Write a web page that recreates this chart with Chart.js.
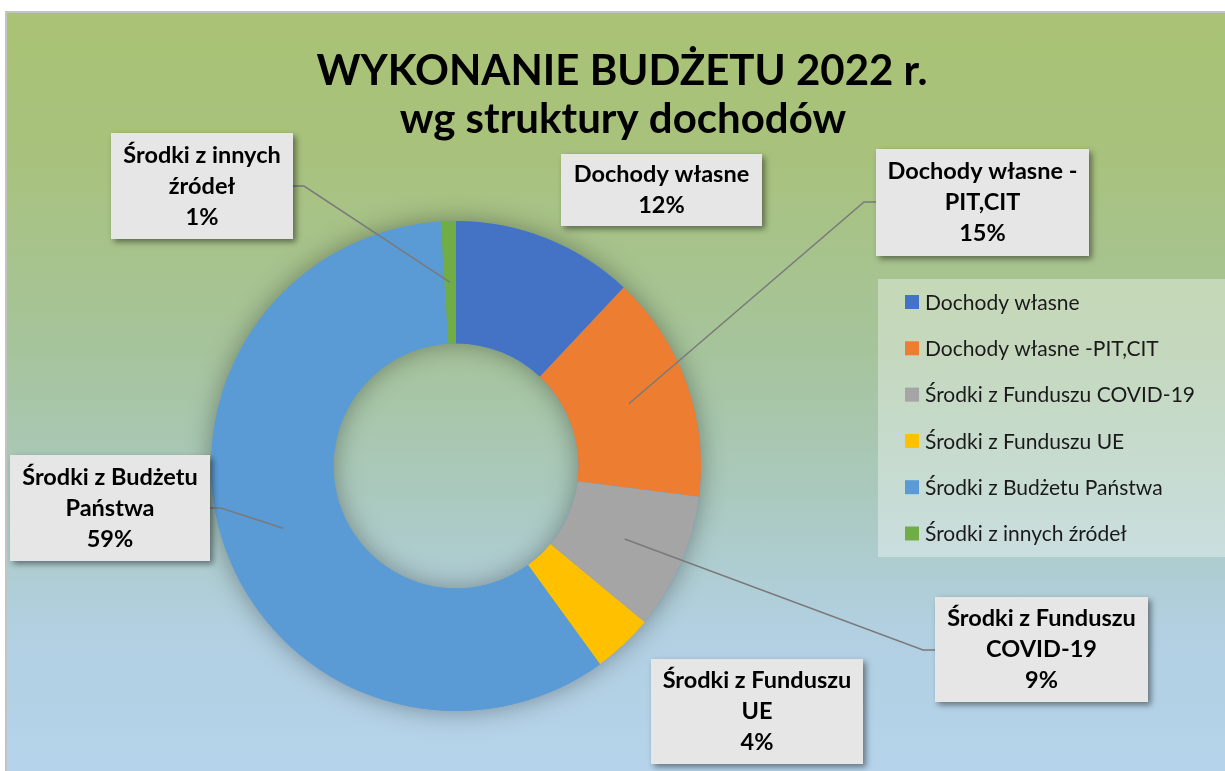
<!DOCTYPE html>
<html>
<head>
<meta charset="utf-8">
<script src="https://cdn.jsdelivr.net/npm/chart.js@4.4.0/dist/chart.umd.min.js"></script>
<style>
    body { margin: 0; background: #fff; width: 1225px; height: 771px; overflow: hidden; }
    #bg {
        position: absolute; left: 5px; top: 11px; right: 0; bottom: 0;
        border-top: 2px solid #c3c3c3; border-left: 2px solid #c3c3c3;
        background: linear-gradient(to bottom, #a9c274 0%, #a8c27e 20%, #a6c49c 45%, #aac9bd 63%, #b2d0e2 82%, #b5d3ea 100%);
    }
    #wrap { position: absolute; left: 0; top: 0; width: 1225px; height: 771px; }
</style>
</head>
<body>
<div id="bg"></div>
<div id="wrap"><canvas id="budgetChart"></canvas></div>
<script>
// Data
var titleLines = ['WYKONANIE BUDŻETU 2022 r.', 'wg struktury dochodów'];
var categories = ['Dochody własne', 'Dochody własne -PIT,CIT', 'Środki z Funduszu COVID-19',
    'Środki z Funduszu UE', 'Środki z Budżetu Państwa', 'Środki z innych źródeł'];
var shares = [12, 15, 9, 4, 59, 1];
var colors = ['#4472c4', '#ed7d31', '#a5a5a5', '#ffc000', '#5b9bd5', '#70ad47'];
// wrapped names as shown in the data label boxes
var labelLines = [['Dochody własne'], ['Dochody własne -', 'PIT,CIT'], ['Środki z Funduszu', 'COVID-19'],
    ['Środki z Funduszu', 'UE'], ['Środki z Budżetu', 'Państwa'], ['Środki z innych', 'źródeł']];

// label box placement (x, y, w, h) and leader side
var labelBoxes = [
    { x: 561, y: 154, w: 201, h: 72, leader: null },
    { x: 876, y: 149, w: 213, h: 107, leader: 'left', ly: 202 },
    { x: 935, y: 597, w: 213, h: 105, leader: 'left', ly: 650 },
    { x: 651, y: 659, w: 212, h: 105, leader: null },
    { x: 10, y: 455, w: 200, h: 106, leader: 'right', ly: 508 },
    { x: 111, y: 133, w: 182, h: 106, leader: 'right', ly: 186 }
];

var FONT = 'Lato, "Open Sans", sans-serif';

// soft shadow behind the ring
var ringShadow = {
    id: 'ringShadow',
    beforeDatasetsDraw: function (chart) {
        var arc = chart.getDatasetMeta(0).data[0];
        if (!arc) return;
        var ctx = chart.ctx;
        ctx.save();
        ctx.shadowColor = 'rgba(0,0,0,0.35)';
        ctx.shadowBlur = 26;
        ctx.fillStyle = '#5b9bd5';
        ctx.beginPath();
        ctx.arc(arc.x, arc.y, arc.outerRadius, 0, Math.PI * 2);
        ctx.arc(arc.x, arc.y, arc.innerRadius, 0, Math.PI * 2, true);
        ctx.fill();
        ctx.restore();
    }
};

// title, legend panel, data label boxes
var decorations = {
    id: 'decorations',
    afterDatasetsDraw: function (chart) {
        var ctx = chart.ctx;
        var meta = chart.getDatasetMeta(0);
        ctx.save();

        // title
        ctx.fillStyle = '#000';
        ctx.textAlign = 'center';
        ctx.textBaseline = 'alphabetic';
        ctx.font = 'bold 42px ' + FONT;
        ctx.fillText(titleLines[0], 622, 85);
        ctx.fillText(titleLines[1], 623, 133);

        // legend panel
        ctx.fillStyle = 'rgba(255,255,255,0.35)';
        ctx.fillRect(878, 279, 347, 278);
        ctx.font = '21px ' + FONT;
        ctx.textAlign = 'left';
        ctx.textBaseline = 'middle';
        categories.forEach(function (name, i) {
            var cy = 302 + i * 46.3;
            ctx.fillStyle = colors[i];
            ctx.fillRect(905, cy - 7, 14, 14);
            ctx.fillStyle = '#1a1a1a';
            ctx.fillText(name, 925, cy + 1);
        });

        // leader lines
        ctx.strokeStyle = '#7a7a7a';
        ctx.lineWidth = 1.6;
        labelBoxes.forEach(function (b, i) {
            if (!b.leader) return;
            var p = meta.data[i].tooltipPosition();
            var ex = b.leader === 'left' ? b.x : b.x + b.w;
            var kx = b.leader === 'left' ? b.x - 12 : b.x + b.w + 11;
            ctx.beginPath();
            ctx.moveTo(ex, b.ly);
            ctx.lineTo(kx, b.ly);
            ctx.lineTo(p.x, p.y);
            ctx.stroke();
        });

        // label boxes
        labelBoxes.forEach(function (b, i) {
            ctx.save();
            ctx.shadowColor = 'rgba(0,0,0,0.45)';
            ctx.shadowBlur = 6;
            ctx.shadowOffsetX = 3;
            ctx.shadowOffsetY = 3;
            ctx.fillStyle = '#e7e6e6';
            ctx.fillRect(b.x, b.y, b.w, b.h);
            ctx.restore();

            var lines = labelLines[i].concat([shares[i] + '%']);
            ctx.fillStyle = '#000';
            ctx.font = 'bold 23.5px ' + FONT;
            ctx.textAlign = 'center';
            ctx.textBaseline = 'middle';
            var mid = b.y + b.h / 2;
            lines.forEach(function (t, j) {
                ctx.fillText(t, b.x + b.w / 2, mid + (j - (lines.length - 1) / 2) * 31);
            });
        });
        ctx.restore();
    }
};

var ctx = document.getElementById('budgetChart').getContext('2d');
var budgetChart = new Chart(ctx, {
    type: 'doughnut',
    data: {
        labels: categories,
        datasets: [{
            data: shares,
            backgroundColor: colors,
            borderWidth: 0
        }]
    },
    options: {
        responsive: true,
        maintainAspectRatio: false,
        animation: false,
        cutout: '50%',
        layout: {
            padding: { left: 211, right: 524, top: 221, bottom: 60 }
        },
        plugins: {
            legend: { display: false },
            title: { display: false },
            tooltip: { enabled: false }
        }
    },
    plugins: [ringShadow, decorations]
});
</script>
</body>
</html>
